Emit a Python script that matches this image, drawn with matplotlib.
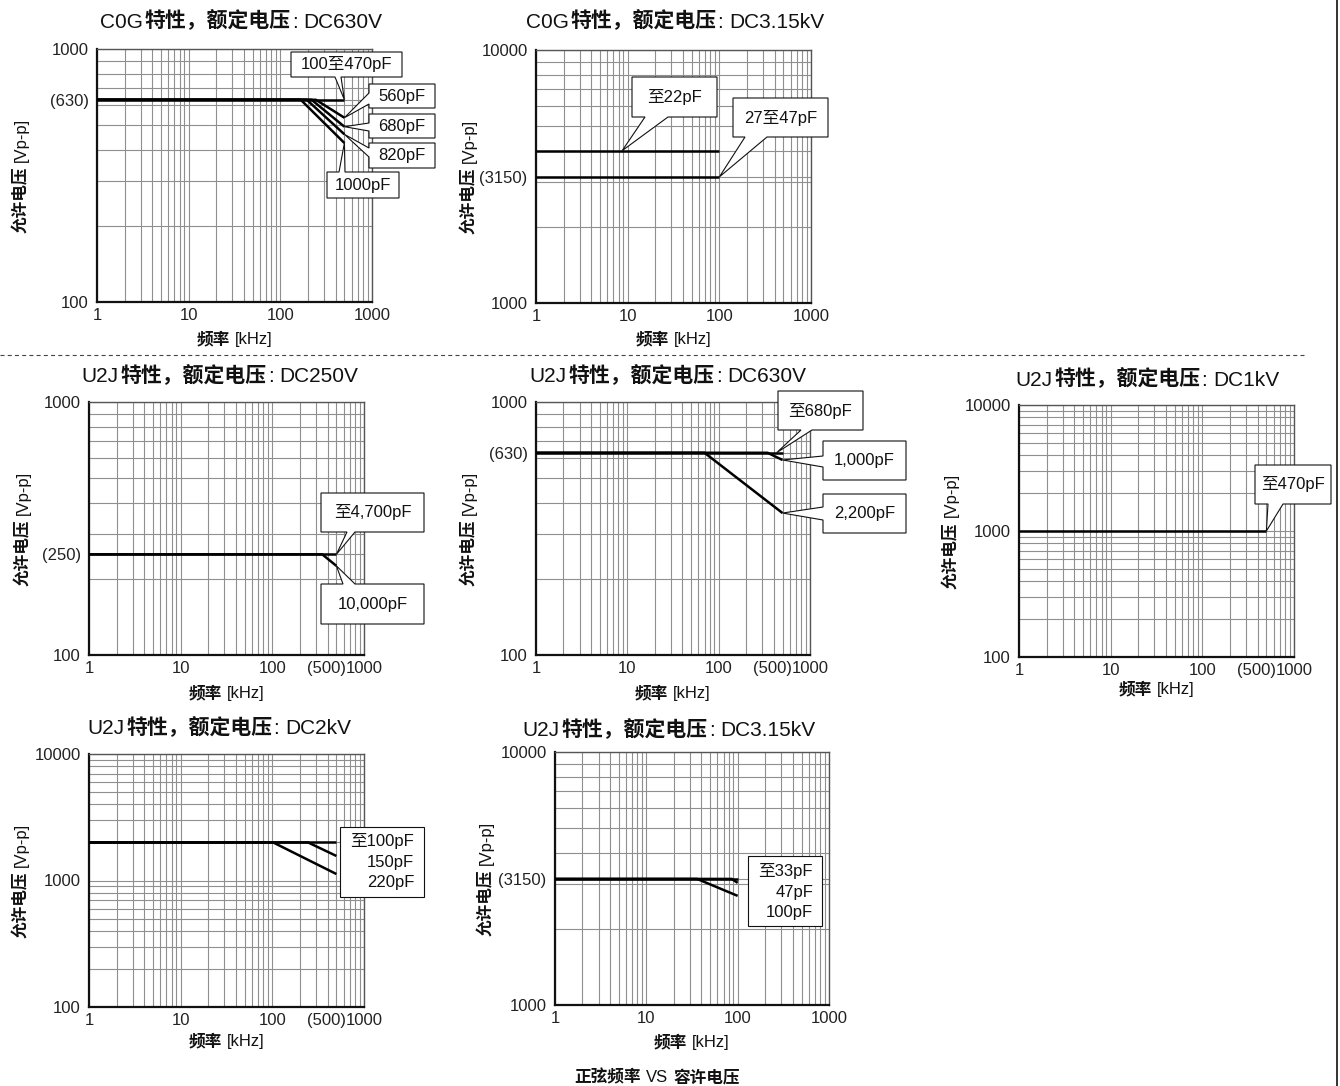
import matplotlib
matplotlib.use('Agg')
import matplotlib.pyplot as plt
from matplotlib.patches import Polygon, Rectangle
from matplotlib.lines import Line2D
from matplotlib.ticker import NullFormatter, LogLocator

FAM = ['Liberation Sans', 'Noto Sans CJK SC']
plt.rcParams['font.family'] = FAM

W, H = 1340, 1086

# ---------------- data ----------------
# C0G, DC630V
c0g630_labels = ['100至470pF', '560pF', '680pF', '820pF', '1000pF']
c0g630_freq = [[1, 500], [1, 244, 500], [1, 219, 500], [1, 194, 500], [1, 167, 500]]
c0g630_volt = [[630, 630], [630, 630, 535], [630, 630, 493], [630, 630, 460], [630, 630, 425]]
c0g630_yticks = [100, 630, 1000]
c0g630_ylabels = ['100', '(630)', '1000']

# C0G, DC3.15kV
c0g3k_labels = ['至22pF', '27至47pF']
c0g3k_freq = [[1, 100], [1, 100]]
c0g3k_volt = [[4000, 4000], [3150, 3150]]
c0g3k_yticks = [1000, 3150, 10000]
c0g3k_ylabels = ['1000', '(3150)', '10000']

# U2J, DC250V
u2j250_labels = ['至4,700pF', '10,000pF']
u2j250_freq = [[1, 500], [1, 350, 500]]
u2j250_volt = [[250, 250], [250, 250, 225]]
u2j250_yticks = [100, 250, 1000]
u2j250_ylabels = ['100', '(250)', '1000']

# U2J, DC630V
u2j630_labels = ['至680pF', '1,000pF', '2,200pF']
u2j630_freq = [[1, 500], [1, 343, 500], [1, 70, 500]]
u2j630_volt = [[630, 630], [630, 630, 590], [630, 630, 364]]
u2j630_yticks = [100, 630, 1000]
u2j630_ylabels = ['100', '(630)', '1000']

# U2J, DC1kV
u2j1k_labels = ['至470pF']
u2j1k_freq = [[1, 500]]
u2j1k_volt = [[1000, 1000]]
u2j1k_yticks = [100, 1000, 10000]
u2j1k_ylabels = ['100', '1000', '10000']

# U2J, DC2kV
u2j2k_labels = ['至100pF', '150pF', '220pF']
u2j2k_freq = [[1, 500], [1, 245, 500], [1, 102, 500]]
u2j2k_volt = [[2000, 2000], [2000, 2000, 1563], [2000, 2000, 1125]]
u2j2k_yticks = [100, 1000, 10000]
u2j2k_ylabels = ['100', '1000', '10000']

# U2J, DC3.15kV
u2j3k_labels = ['至33pF', '47pF', '100pF']
u2j3k_freq = [[1, 100], [1, 86, 100], [1, 36, 100]]
u2j3k_volt = [[3150, 3150], [3150, 3150, 3040], [3150, 3150, 2700]]
u2j3k_yticks = [1000, 3150, 10000]
u2j3k_ylabels = ['1000', '(3150)', '10000']

xticks = [1, 10, 100, 1000]
xticklabels = ['1', '10', '100', '1000']

titles = [
    ('C0G', '特性，额定电压', 'DC630V'),
    ('C0G', '特性，额定电压', 'DC3.15kV'),
    ('U2J', '特性，额定电压', 'DC250V'),
    ('U2J', '特性，额定电压', 'DC630V'),
    ('U2J', '特性，额定电压', 'DC1kV'),
    ('U2J', '特性，额定电压', 'DC2kV'),
    ('U2J', '特性，额定电压', 'DC3.15kV'),
]

# ---------------- layout ----------------
fig = plt.figure(figsize=(W / 100, H / 100), dpi=100)
renderer = fig.canvas.get_renderer()


def fx(x):
    return x / W


def fy(y):
    return 1 - y / H


def rich(xc, yb, segs, size, rotation=0, color='#111'):
    """segs: list of (text, weight) or (None, gap_px). centred at xc (horizontal) / yb (vertical)."""
    items = []
    total = 0
    for s, w in segs:
        if s is None:
            items.append((None, w))
            total += w
            continue
        t = fig.text(0, 0, s, fontsize=size, fontweight=w, rotation=rotation,
                     rotation_mode='anchor', ha='left', va='baseline', color=color)
        bb = t.get_window_extent(renderer)
        L = bb.width if rotation == 0 else bb.height
        items.append((t, L))
        total += L
    pos = 0
    for t, L in items:
        if t is not None:
            if rotation == 0:
                t.set_position((fx(xc - total / 2 + pos), fy(yb)))
            else:
                t.set_position((fx(xc), fy(yb + total / 2 - pos)))
        pos += L


def callout(ax, box, side, base, tip, text):
    tx, ty = ax.transData.transform(tip)
    ty = H - ty
    x0, y0, x1, y1 = box
    a, b = base
    if side == 'bottom':
        pts = [(x0, y0), (x1, y0), (x1, y1), (b, y1), (tx, ty), (a, y1), (x0, y1)]
    elif side == 'top':
        pts = [(x0, y0), (a, y0), (tx, ty), (b, y0), (x1, y0), (x1, y1), (x0, y1)]
    else:
        pts = [(x0, y0), (x1, y0), (x1, y1), (x0, y1), (x0, b), (tx, ty), (x0, a)]
    fig.add_artist(Polygon([(fx(p[0]), fy(p[1])) for p in pts], closed=True,
                           transform=fig.transFigure, fc='white', ec='#111', lw=0.8, zorder=5))
    fig.text(fx((x0 + x1) / 2), fy((y0 + y1) / 2), text, ha='center', va='center',
             fontsize=12, color='#111', zorder=6)


def listbox(box, xr, ys, labels):
    x0, y0, x1, y1 = box
    fig.add_artist(Rectangle((fx(x0), fy(y1)), fx(x1) - fx(x0), fy(y0) - fy(y1),
                             transform=fig.transFigure, fc='white', ec='#111', lw=0.8, zorder=5))
    for y, s in zip(ys, labels):
        fig.text(fx(xr), fy(y), s, ha='right', va='center', fontsize=12, color='#111', zorder=6)


def make_axes(rect, ylim, yticks, ylabels, freq, volt, title, title_pos, xlab_y, ylab_x,
              extra500=False):
    l, t, r, b = rect
    ax = fig.add_axes([fx(l), fy(b), fx(r) - fx(l), fy(t) - fy(b)])
    ax.set_xscale('log')
    ax.set_yscale('log')
    ax.set_xlim(1, 1000)
    ax.set_ylim(*ylim)
    ax.xaxis.set_minor_locator(LogLocator(base=10, subs=range(2, 10), numticks=20))
    ax.yaxis.set_minor_locator(LogLocator(base=10, subs=range(2, 10), numticks=20))
    ax.set_xticks(xticks)
    ax.set_xticklabels(xticklabels)
    ax.set_yticks(yticks)
    ax.set_yticklabels(ylabels)
    ax.xaxis.set_minor_formatter(NullFormatter())
    ax.yaxis.set_minor_formatter(NullFormatter())
    ax.tick_params(which='both', length=0, labelsize=12, labelcolor='#222')
    ax.tick_params(axis='x', pad=4.5)
    ax.tick_params(axis='y', pad=6)
    ax.grid(which='both', color='#8f8f8f', lw=0.8)
    ax.set_axisbelow(True)
    for s in ['left', 'bottom']:
        ax.spines[s].set_color('#111')
        ax.spines[s].set_linewidth(1.6)
    for s in ['top', 'right']:
        ax.spines[s].set_color('#555')
        ax.spines[s].set_linewidth(1.0)
    for f, v in zip(freq, volt):
        ax.plot(f, v, color='#000', lw=1.8, solid_capstyle='butt', zorder=3)
    if extra500:
        ax.annotate('(500)', xy=(1, 0), xycoords='axes fraction', xytext=(-13.3, -4.5),
                    textcoords='offset points', ha='right', va='top', fontsize=12, color='#222')
    # title
    rich(title_pos[0], title_pos[1] + 7.5,
         [(title[0], 'normal'), (None, 2), (title[1], 'bold'), (None, 1), (':', 'normal'),
          (None, 6), (title[2], 'normal')], 15)
    # x label
    rich((l + r) / 2, xlab_y + 6, [('频率', 'bold'), (None, 5), ('[kHz]', 'normal')], 12)
    # y label
    rich(ylab_x + 6, (t + b) / 2, [('允许电压', 'bold'), (None, 5), ('[Vp-p]', 'normal')], 12,
         rotation=90)
    return ax


# Panel 1: C0G DC630V
ax1 = make_axes((97, 49, 372, 302), (100, 1000), c0g630_yticks, c0g630_ylabels,
                c0g630_freq, c0g630_volt, titles[0], (241, 20), 338, 20)
callout(ax1, (291, 52, 402, 77), 'bottom', (335, 341), (500, 630), c0g630_labels[0])
callout(ax1, (369, 84, 435, 108), 'left', (93, 104), (500, 535), c0g630_labels[1])
callout(ax1, (369, 114, 435, 138), 'left', (123, 131), (500, 493), c0g630_labels[2])
callout(ax1, (369, 143, 435, 168), 'left', (148, 157), (500, 460), c0g630_labels[3])
callout(ax1, (327, 172, 399, 198), 'top', (339, 345), (500, 425), c0g630_labels[4])

# Panel 2: C0G DC3.15kV
ax2 = make_axes((536, 50, 811, 303), (1000, 10000), c0g3k_yticks, c0g3k_ylabels,
                c0g3k_freq, c0g3k_volt, titles[1], (675, 20), 338, 468)
callout(ax2, (632, 77, 717, 117), 'bottom', (645, 668), (8.7, 4000), c0g3k_labels[0])
callout(ax2, (733, 98, 828, 137), 'bottom', (745, 767), (100, 3150), c0g3k_labels[1])

# Panel 3: U2J DC250V
ax3 = make_axes((89, 402, 364, 655), (100, 1000), u2j250_yticks, u2j250_ylabels,
                u2j250_freq, u2j250_volt, titles[2], (220, 375), 692, 22, extra500=True)
callout(ax3, (321, 493, 424, 532), 'bottom', (347, 355), (500, 250), u2j250_labels[0])
callout(ax3, (321, 584, 424, 624), 'top', (343, 355), (500, 225), u2j250_labels[1])

# Panel 4: U2J DC630V
ax4 = make_axes((536, 402, 810, 655), (100, 1000), u2j630_yticks, u2j630_ylabels,
                u2j630_freq, u2j630_volt, titles[3], (668, 375), 692, 468, extra500=True)
callout(ax4, (778, 391, 863, 430), 'bottom', (801, 812), (430, 630), u2j630_labels[0])
callout(ax4, (823, 441, 906, 480), 'left', (456, 467), (500, 590), u2j630_labels[1])
callout(ax4, (823, 494, 906, 533), 'left', (507, 520), (500, 364), u2j630_labels[2])

# Panel 5: U2J DC1kV
ax5 = make_axes((1019, 405, 1294, 657), (100, 10000), u2j1k_yticks, u2j1k_ylabels,
                u2j1k_freq, u2j1k_volt, titles[4], (1147, 378), 688, 950, extra500=True)
callout(ax5, (1255, 465, 1331, 504), 'bottom', (1268, 1283), (500, 1000), u2j1k_labels[0])

# Panel 6: U2J DC2kV
ax6 = make_axes((89, 754, 364, 1007), (100, 10000), u2j2k_yticks, u2j2k_ylabels,
                u2j2k_freq, u2j2k_volt, titles[5], (219, 727), 1040, 20, extra500=True)
listbox((340, 827, 424, 897), 414, [841, 862, 883], u2j2k_labels)

# Panel 7: U2J DC3.15kV
ax7 = make_axes((555, 752, 829, 1005), (1000, 10000), u2j3k_yticks, u2j3k_ylabels,
                u2j3k_freq, u2j3k_volt, titles[6], (669, 729), 1041, 485)
listbox((748, 856, 822, 926), 813, [871, 892, 913], u2j3k_labels)

# footer
rich(657, 1076 + 6, [('正弦频率', 'bold'), (None, 5), ('VS', 'normal'), (None, 5),
                     ('容许电压', 'bold')], 12)

# separator and right border
fig.add_artist(Line2D([fx(0), fx(1305)], [fy(355), fy(355)], transform=fig.transFigure,
                      color='#444', lw=0.8, dashes=(3.6, 2.9)))
fig.add_artist(Line2D([fx(1337), fx(1337)], [0, 1], transform=fig.transFigure,
                      color='#111', lw=1.2))

fig.savefig('out.png', dpi=100, facecolor='white')
